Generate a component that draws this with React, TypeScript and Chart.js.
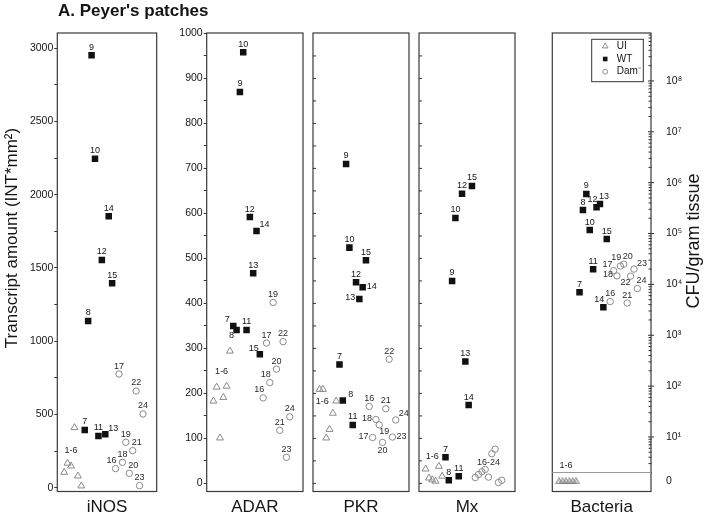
import React, { useEffect, useRef } from 'react';
import { Chart, registerables } from 'chart.js';

Chart.register(...registerables);

const FONT = '"Liberation Sans", Arial, Helvetica, sans-serif';
const INK = '#151515';
const GRAY = '#8a8a8a';

// ---- data ----
// sample numbers (x position of each mark inside its panel)
const UI_IDS = [1, 2, 3, 4, 5, 6];
const WT_IDS = [7, 8, 9, 10, 11, 12, 13, 14, 15];
const DAM_IDS = [16, 17, 18, 19, 20, 21, 22, 23, 24];
const X_RANGE = [-1, 28];

const PANEL_NAMES = ['iNOS', 'ADAR', 'PKR', 'Mx', 'Bacteria'];
const LEGEND_LABELS = ['UI', 'WT', 'Dam⁻'];
const MAIN_TITLE = "A. Peyer's patches";
const LEFT_TITLE = 'Transcript amount (INT*mm²)';
const RIGHT_TITLE = 'CFU/gram tissue';
const UI_GROUP_LABEL = '1-6';
const DAM_GROUP_LABEL = '16-24';

// iNOS transcript amount (INT*mm²)
const INOS_UI = [105, 167, 148, 410, 80, 12];
const INOS_WT = [394, 1138, 2952, 2246, 353, 1555, 364, 1853, 1395];
const INOS_DAM = [130, 776, 173, 310, 98, 253, 660, 14, 503];

// ADAR
const ADAR_UI = [183, 214, 101, 191, 216, 294];
const ADAR_WT = [350, 341, 870, 958, 341, 592, 467, 561, 287];
const ADAR_DAM = [190, 312, 224, 402, 254, 118, 315, 58, 148];

// PKR
const PKR_UI = [209, 209, 101, 120, 156, 183];
const PKR_WT = [264, 184, 710, 524, 130, 447, 410, 436, 496];
const PKR_DAM = [171, 102, 142, 130, 91, 166, 276, 103, 141];

// Mx
const MX_UI = [32, 12, 8, 5, 38, 16];
const MX_WT = [58, 7, 450, 590, 16, 644, 271, 174, 661];
const MX_DAM = [13, 20, 26, 31, 14, 66, 76, 2, 7];

// Bacteria, CFU / gram tissue (0 = none recovered)
const BACT_UI = [0, 0, 0, 0, 0, 0];
const BACT_WT = [7000, 290000, 600000, 117000, 19800, 330000, 380000, 3550, 78000];
const BACT_DAM = [4600, 18600, 14700, 23000, 25000, 4300, 14500, 20000, 8300];

// tick values
const INOS_TICKS = [0, 500, 1000, 1500, 2000, 2500, 3000];
const INOS_MINOR = 250;
const ADAR_TICKS = [0, 100, 200, 300, 400, 500, 600, 700, 800, 900, 1000];
const ADAR_MINOR = 50;
const BACT_DECADES = [1, 2, 3, 4, 5, 6, 7, 8];
const BACT_ZERO_TEXT = '0';
const BACT_BREAK = 2; // axis break drawn at 2 CFU
const SUP = ['⁰', '¹', '²', '³', '⁴', '⁵', '⁶', '⁷', '⁸', '⁹'];

// label placements (per point, ordered by sample number)
const INOS_WT_POS = ['t', 't', 't', 't', 't', 't', 'ur', 't', 't'];
const INOS_DAM_POS = ['tl', 't', 't', 't', 'tr', 'tr', 't', 't', 't'];
const ADAR_WT_POS = ['ul', 'bl', 't', 't', 't', 't', 't', 'ur', 'ul'];
const ADAR_DAM_POS = ['tl', 't', 'tl', 't', 't', 't', 't', 't', 't'];
const PKR_WT_POS = ['t', 'ur', 't', 't', 't', 't', 'l', 'r', 't'];
const PKR_DAM_POS = ['t', 'l', 'l', 'br', 'b', 't', 't', 'r', 'ur'];
const MX_WT_POS = ['t', 't', 't', 't', 't', 't', 't', 't', 't'];
const BACT_WT_POS = ['t', 't', 't', 't', 't', 'tl', 'tr', 'tl', 't'];
const BACT_DAM_POS = ['t', 'ul', 'l', 'tl', 'tr', 't', 'bl', 'ur', 'tr'];

const OFFSETS: Record<string, [number, number]> = {
  t: [0, -8], tr: [4, -8], tl: [-4, -8], ur: [8, -6], ul: [-6, -6],
  r: [9, -1], l: [-9, -1], b: [0, 8], br: [5, 7], bl: [-5, 6],
  T: [0, -15], Tl: [-5, -15], L: [-14, 0], TT: [0, -23],
};

// ---- layout ----
const H = 516;
const TOP = 33;
const BOTTOM = 491.5;
const BACT_ZERO_LEVEL = 0.14;

interface PanelDef {
  name: string;
  left: number; width: number; padL: number; padR: number; axisW: number;
  kind: 'labels' | 'inner' | 'log';
  yMin: number; yMax: number;
  ticks?: number[]; minorStep?: number;
  ui: number[]; wt: number[]; dam: number[];
  wtPos: string[] | null; damPos: string[] | null;
  uiGroup: [number, string]; damGroup?: [number, string];
}

const PANELS: PanelDef[] = [
  { name: PANEL_NAMES[0], left: 0, width: 230, padL: 0, padR: 73.3, axisW: 57.3, kind: 'labels',
    yMin: -26, yMax: 3104, ticks: INOS_TICKS, minorStep: INOS_MINOR,
    ui: INOS_UI, wt: INOS_WT, dam: INOS_DAM, wtPos: INOS_WT_POS, damPos: INOS_DAM_POS, uiGroup: [2, 'T'] },
  { name: PANEL_NAMES[1], left: 165, width: 143, padL: 0, padR: 3, axisW: 41.7, kind: 'labels',
    yMin: -18, yMax: 1001, ticks: ADAR_TICKS, minorStep: ADAR_MINOR,
    ui: ADAR_UI, wt: ADAR_WT, dam: ADAR_DAM, wtPos: ADAR_WT_POS, damPos: ADAR_DAM_POS, uiGroup: [4, 'Tl'] },
  { name: PANEL_NAMES[2], left: 308, width: 106, padL: 4, padR: 3, axisW: 0, kind: 'inner',
    yMin: -18, yMax: 1001, ticks: ADAR_TICKS, minorStep: ADAR_MINOR,
    ui: PKR_UI, wt: PKR_WT, dam: PKR_DAM, wtPos: PKR_WT_POS, damPos: PKR_DAM_POS, uiGroup: [5, 'L'] },
  { name: PANEL_NAMES[3], left: 414, width: 106, padL: 3.3, padR: 2.7, axisW: 0, kind: 'inner',
    yMin: -18, yMax: 1001, ticks: ADAR_TICKS, minorStep: ADAR_MINOR,
    ui: MX_UI, wt: MX_WT, dam: MX_DAM, wtPos: MX_WT_POS, damPos: null, uiGroup: [2, 'TT'], damGroup: [4, 'T'] },
  { name: PANEL_NAMES[4], left: 520, width: 184, padL: 32.3, padR: 0, axisW: 53, kind: 'log',
    yMin: -0.072, yMax: 8.943,
    ui: BACT_UI, wt: BACT_WT, dam: BACT_DAM, wtPos: BACT_WT_POS, damPos: BACT_DAM_POS, uiGroup: [2, 'T'] },
];

function minorValues(min: number, max: number, step: number) {
  const out: number[] = [];
  for (let v = Math.ceil(min / step) * step; v < max; v += step) out.push(v);
  return out;
}

function hatchedTriangle() {
  const c = document.createElement('canvas');
  c.width = 8; c.height = 7;
  const g = c.getContext('2d')!;
  g.strokeStyle = '#777';
  g.lineWidth = 0.8;
  g.beginPath();
  g.moveTo(0.5, 6.5); g.lineTo(4, 0.5); g.lineTo(7.5, 6.5); g.closePath();
  g.stroke();
  g.save();
  g.clip();
  g.lineWidth = 0.6;
  for (let i = -8; i < 14; i += 2) {
    g.beginPath(); g.moveTo(i, 7); g.lineTo(i + 7, 0); g.stroke();
  }
  g.restore();
  return c;
}

const boxPlugin = {
  id: 'panelBox',
  beforeDatasetsDraw(chart: any) {
    const { ctx, chartArea: a } = chart;
    ctx.save();
    ctx.strokeStyle = '#3a3a3a';
    ctx.lineWidth = 1.2;
    ctx.strokeRect(a.left, a.top, a.right - a.left, a.bottom - a.top);
    ctx.restore();
  },
};

const labelPlugin = {
  id: 'ptLabels',
  afterDatasetsDraw(chart: any) {
    const ctx = chart.ctx;
    ctx.save();
    ctx.font = `9px ${FONT}`;
    ctx.textAlign = 'center';
    ctx.textBaseline = 'middle';
    chart.data.datasets.forEach((ds: any, di: number) => {
      const meta = chart.getDatasetMeta(di);
      (ds.pointLabels || []).forEach((pl: any) => {
        const el = meta.data[pl.index];
        if (!el) return;
        const [dx, dy] = OFFSETS[pl.pos];
        ctx.fillStyle = ds.labelColor || INK;
        ctx.fillText(pl.text, el.x + dx, el.y + dy);
      });
    });
    ctx.restore();
  },
};

function innerTicksPlugin(p: PanelDef) {
  return {
    id: 'innerTicks',
    afterDatasetsDraw(chart: any) {
      const { ctx, chartArea: a, scales } = chart;
      const y = scales.y;
      ctx.save();
      ctx.strokeStyle = '#333';
      ctx.lineWidth = 1;
      if (p.kind === 'inner') {
        minorValues(0, p.yMax - 2, p.minorStep!).forEach((v) => {
          const py = y.getPixelForValue(v);
          ctx.beginPath(); ctx.moveTo(a.left, py); ctx.lineTo(a.left + 3, py); ctx.stroke();
        });
      } else if (p.kind === 'log') {
        for (let n = 0; n <= 8; n++) {
          for (let k = 1; k <= 9; k++) {
            const v = n + Math.log10(k);
            if (v > p.yMax || (n === 0 && k === 1)) continue;
            const py = y.getPixelForValue(v);
            ctx.beginPath();
            if (k === 1) { ctx.moveTo(a.right - 3, py); ctx.lineTo(a.right + 3, py); }
            else { ctx.moveTo(a.right - 2.5, py); ctx.lineTo(a.right + 0.5, py); }
            ctx.stroke();
          }
        }
        // axis break line
        const by = y.getPixelForValue(Math.log10(BACT_BREAK));
        ctx.strokeStyle = '#9a9a9a';
        ctx.beginPath(); ctx.moveTo(a.left, by); ctx.lineTo(a.right, by); ctx.stroke();
      }
      ctx.restore();
    },
  };
}

const mainTitlePlugin = {
  id: 'mainTitles',
  afterDraw(chart: any) {
    const ctx = chart.ctx;
    ctx.save();
    ctx.fillStyle = INK;
    ctx.font = `bold 17px ${FONT}`;
    ctx.textAlign = 'left';
    ctx.textBaseline = 'alphabetic';
    ctx.fillText(MAIN_TITLE, 58, 15.5);
    ctx.translate(12, 238);
    ctx.rotate(-Math.PI / 2);
    ctx.font = `17px ${FONT}`;
    ctx.textAlign = 'center';
    ctx.textBaseline = 'middle';
    ctx.fillText(LEFT_TITLE, 0, 0);
    ctx.restore();
  },
};

const rightPlugin = {
  id: 'rightDecor',
  afterDraw(chart: any) {
    const { ctx, chartArea: a } = chart;
    ctx.save();
    // right axis title (reads upward)
    ctx.fillStyle = INK;
    ctx.translate(174, 241);
    ctx.rotate(-Math.PI / 2);
    ctx.font = `18px ${FONT}`;
    ctx.textAlign = 'center';
    ctx.textBaseline = 'middle';
    ctx.fillText(RIGHT_TITLE, 0, 0);
    ctx.restore();

    // legend box
    const x0 = a.left + 39.4, y0 = a.top + 6.3, w = 51.6, h = 42.4;
    ctx.save();
    ctx.strokeStyle = '#333';
    ctx.lineWidth = 1;
    ctx.strokeRect(x0, y0, w, h);
    const rows = [y0 + 6.6, y0 + 19.7, y0 + 32.4];
    const mx = x0 + 13.5;
    ctx.strokeStyle = GRAY;
    ctx.beginPath();
    ctx.moveTo(mx, rows[0] - 3); ctx.lineTo(mx + 2.8, rows[0] + 2); ctx.lineTo(mx - 2.8, rows[0] + 2); ctx.closePath();
    ctx.stroke();
    ctx.fillStyle = INK;
    ctx.fillRect(mx - 2.3, rows[1] - 2.3, 4.6, 4.6);
    ctx.beginPath(); ctx.arc(mx, rows[2], 2.4, 0, Math.PI * 2); ctx.stroke();
    ctx.font = `10px ${FONT}`;
    ctx.textAlign = 'left';
    ctx.textBaseline = 'middle';
    LEGEND_LABELS.forEach((t, i) => ctx.fillText(t, x0 + 25, rows[i]));
    ctx.restore();
  },
};

function buildConfig(p: PanelDef): any {
  const isLog = p.kind === 'log';
  const map = (v: number) => (isLog ? (v > 0 ? Math.log10(v) : BACT_ZERO_LEVEL) : v);
  const pts = (ids: number[], vals: number[]) => ids.map((id, i) => ({ x: id, y: map(vals[i]) }));
  const idLabels = (ids: number[], pos: string[] | null) =>
    pos ? ids.map((id, i) => ({ index: i, text: String(id), pos: pos[i] })) : [];

  const uiLabels = [{ index: p.uiGroup[0], text: UI_GROUP_LABEL, pos: p.uiGroup[1] }];
  const damLabels = idLabels(DAM_IDS, p.damPos);
  if (p.damGroup) damLabels.push({ index: p.damGroup[0], text: DAM_GROUP_LABEL, pos: p.damGroup[1] });

  const datasets = [
    {
      label: 'UI', data: pts(UI_IDS, p.ui),
      pointStyle: isLog ? hatchedTriangle() : 'triangle',
      pointRadius: 4, pointHoverRadius: 4,
      pointBorderColor: GRAY, pointBackgroundColor: 'rgba(0,0,0,0)', pointBorderWidth: 1,
      pointLabels: uiLabels, labelColor: '#222',
    },
    {
      label: 'WT', data: pts(WT_IDS, p.wt),
      pointStyle: 'rect', pointRadius: 4.6, pointHoverRadius: 4.6,
      pointBorderColor: '#111', pointBackgroundColor: '#111', pointBorderWidth: 0,
      pointLabels: idLabels(WT_IDS, p.wtPos), labelColor: INK,
    },
    {
      label: 'Dam-', data: pts(DAM_IDS, p.dam),
      pointStyle: 'circle', pointRadius: 3.2, pointHoverRadius: 3.2,
      pointBorderColor: GRAY, pointBackgroundColor: 'rgba(0,0,0,0)', pointBorderWidth: 1,
      pointLabels: damLabels, labelColor: '#2a2a2a',
    },
  ];

  let yScale: any;
  if (p.kind === 'labels') {
    const all = minorValues(0, p.yMax, p.minorStep!);
    yScale = {
      type: 'linear', position: 'left', min: p.yMin, max: p.yMax,
      afterBuildTicks: (s: any) => { s.ticks = all.map((v) => ({ value: v })); },
      ticks: {
        autoSkip: false, padding: 1, color: INK,
        font: { family: FONT, size: 10.5 },
        callback: (v: number) => (p.ticks!.includes(v) ? String(v) : ''),
      },
      grid: { drawOnChartArea: false, drawTicks: true, tickLength: 3, tickColor: '#333', tickWidth: 1 },
      border: { display: false },
      afterFit: (s: any) => { s.width = p.axisW; },
    };
  } else if (p.kind === 'inner') {
    yScale = { type: 'linear', min: p.yMin, max: p.yMax, display: false };
  } else {
    yScale = {
      type: 'linear', position: 'right', min: p.yMin, max: p.yMax,
      afterBuildTicks: (s: any) => {
        s.ticks = [{ value: BACT_ZERO_LEVEL }, ...BACT_DECADES.map((v) => ({ value: v }))];
      },
      ticks: {
        autoSkip: false, padding: 7, color: INK,
        font: { family: FONT, size: 10.5 },
        callback: (v: number) => (v === BACT_ZERO_LEVEL ? BACT_ZERO_TEXT : '10' + SUP[v]),
      },
      grid: { display: false },
      border: { display: false },
      afterFit: (s: any) => { s.width = p.axisW; },
    };
  }

  const plugins: any[] = [boxPlugin, innerTicksPlugin(p), labelPlugin];
  if (p.name === PANEL_NAMES[0]) plugins.push(mainTitlePlugin);
  if (isLog) plugins.push(rightPlugin);

  return {
    type: 'scatter',
    data: { datasets },
    options: {
      animation: false,
      responsive: false,
      devicePixelRatio: 1,
      events: [],
      layout: { padding: { left: p.padL, right: p.padR, top: TOP, bottom: 0 } },
      plugins: { legend: { display: false }, tooltip: { enabled: false }, title: { display: false } },
      scales: {
        x: {
          type: 'linear', min: X_RANGE[0], max: X_RANGE[1],
          grid: { display: false }, border: { display: false }, ticks: { display: false },
          title: { display: true, text: p.name, color: INK, padding: 0, font: { family: FONT, size: 17, lineHeight: 1 } },
          afterFit: (s: any) => { s.height = H - BOTTOM; },
        },
        y: yScale,
      },
    },
    plugins,
  };
}

function Panel({ p }: { p: PanelDef }) {
  const ref = useRef<HTMLCanvasElement>(null);
  useEffect(() => {
    const chart = new Chart(ref.current!, buildConfig(p));
    return () => chart.destroy();
  }, [p]);
  return (
    <canvas
      ref={ref}
      width={p.width}
      height={H}
      style={{ position: 'absolute', left: p.left, top: 0, width: p.width, height: H }}
    />
  );
}

export default function App() {
  return (
    <div style={{ position: 'absolute', left: 0, top: 0, width: 704, height: H, background: '#fff', overflow: 'hidden' }}>
      {PANELS.map((p) => (
        <Panel key={p.name} p={p} />
      ))}
    </div>
  );
}
